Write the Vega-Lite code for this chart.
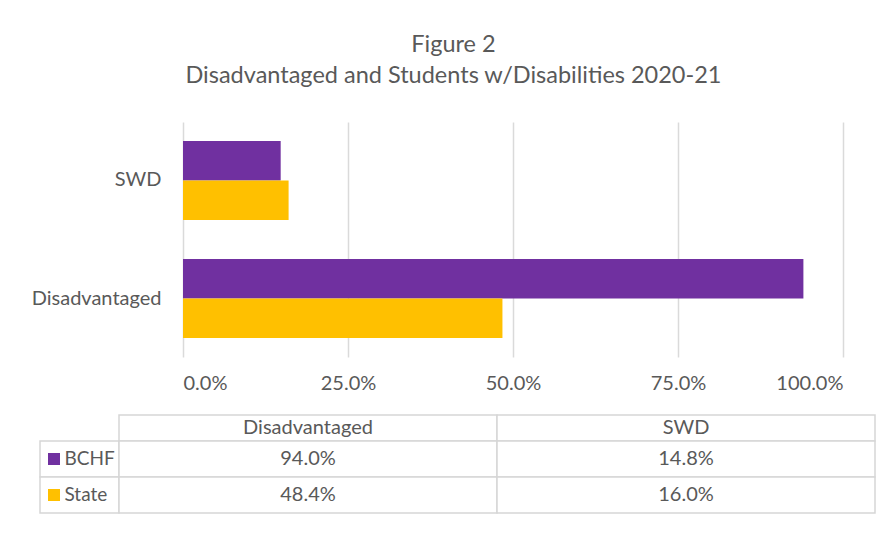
{
  "$schema": "https://vega.github.io/schema/vega-lite/v6.json",
  "background": "white",
  "padding": {"left": 31, "top": 32, "right": 10, "bottom": 10},
  "datasets": {
    "scores": [
      {"category": "Disadvantaged", "series": "BCHF", "value": 0.940},
      {"category": "Disadvantaged", "series": "State", "value": 0.484},
      {"category": "SWD", "series": "BCHF", "value": 0.148},
      {"category": "SWD", "series": "State", "value": 0.160}
    ],
    "columns": [{"category": "Disadvantaged"}, {"category": "SWD"}],
    "legendRows": [{"series": "BCHF"}, {"series": "State"}]
  },
  "title": {
    "text": ["Figure 2", "Disadvantaged and Students w/Disabilities 2020-21"],
    "font": "Lato",
    "fontSize": 23.5,
    "fontWeight": "normal",
    "color": "#595959",
    "lineHeight": 31,
    "anchor": "middle",
    "offset": 35
  },
  "spacing": 21,
  "vconcat": [
    {
      "width": 660,
      "height": 235,
      "data": {"name": "scores"},
      "mark": {"type": "bar"},
      "encoding": {
        "y": {
          "field": "category", "type": "nominal",
          "sort": ["SWD", "Disadvantaged"],
          "scale": {"paddingInner": 0.33, "paddingOuter": 0.16},
          "axis": {"title": null, "ticks": false, "domain": false, "labelFont": "Lato", "labelFontSize": 20, "labelColor": "#595959", "labelPadding": 22}
        },
        "yOffset": {"field": "series", "type": "nominal", "sort": ["BCHF", "State"], "scale": {"paddingInner": 0, "paddingOuter": 0}},
        "x": {
          "field": "value", "type": "quantitative",
          "scale": {"domain": [0, 1]},
          "axis": {"title": null, "format": ".1%", "values": [0, 0.25, 0.5, 0.75, 1], "domain": false, "ticks": false, "grid": true, "gridColor": "#DADADA", "gridWidth": 1.5, "labelFont": "Lato", "labelFontSize": 20, "labelColor": "#595959", "labelPadding": 16}
        },
        "color": {"field": "series", "type": "nominal", "scale": {"domain": ["BCHF", "State"], "range": ["#7030A0", "#FFC000"]}, "legend": null}
      }
    },
    {
      "width": 692,
      "height": 98,
      "layer": [
        {
          "data": {"name": "legendRows"},
          "encoding": {
            "y": {"field": "series", "type": "nominal", "sort": ["BCHF", "State"], "scale": {"range": [26, 98], "paddingInner": 0, "paddingOuter": 0}, "axis": null}
          },
          "layer": [
            {
              "mark": {"type": "rect", "fill": "white", "stroke": "#D6D6D6", "strokeWidth": 1.5},
              "encoding": {"x": {"datum": "key", "type": "nominal", "scale": {"range": [-143, -64], "paddingInner": 0, "paddingOuter": 0}, "axis": null}}
            },
            {
              "mark": {"type": "point", "shape": "square", "filled": true, "opacity": 1, "size": 144},
              "encoding": {
                "x": {"datum": "key", "type": "nominal", "bandPosition": 0.177, "axis": null},
                "color": {"field": "series", "type": "nominal", "legend": null}
              }
            },
            {
              "mark": {"type": "text", "align": "left", "baseline": "middle", "font": "Lato", "fontSize": 19, "color": "#595959"},
              "encoding": {
                "x": {"datum": "key", "type": "nominal", "bandPosition": 0.31, "axis": null},
                "text": {"field": "series"}
              }
            }
          ]
        },
        {
          "data": {"name": "columns"},
          "encoding": {
            "x": {"field": "category", "type": "nominal", "sort": ["Disadvantaged", "SWD"], "scale": {"range": [-64, 692], "paddingInner": 0, "paddingOuter": 0}, "axis": null},
            "y": {"datum": "header", "type": "nominal", "scale": {"range": [0, 26], "paddingInner": 0, "paddingOuter": 0}, "axis": null}
          },
          "layer": [
            {"mark": {"type": "rect", "fill": "white", "stroke": "#D6D6D6", "strokeWidth": 1.5}},
            {
              "mark": {"type": "text", "baseline": "middle", "font": "Lato", "fontSize": 20, "color": "#595959"},
              "encoding": {"text": {"field": "category"}}
            }
          ]
        },
        {
          "data": {"name": "scores"},
          "encoding": {
            "x": {"field": "category", "type": "nominal", "sort": ["Disadvantaged", "SWD"], "scale": {"range": [-64, 692], "paddingInner": 0, "paddingOuter": 0}, "axis": null},
            "y": {"field": "series", "type": "nominal", "sort": ["BCHF", "State"], "scale": {"range": [26, 98], "paddingInner": 0, "paddingOuter": 0}, "axis": null}
          },
          "layer": [
            {"mark": {"type": "rect", "fill": "white", "stroke": "#D6D6D6", "strokeWidth": 1.5}},
            {
              "mark": {"type": "text", "baseline": "middle", "font": "Lato", "fontSize": 20, "color": "#595959"},
              "encoding": {"text": {"field": "value", "type": "quantitative", "format": ".1%"}}
            }
          ]
        }
      ],
      "resolve": {"scale": {"x": "independent", "y": "independent"}}
    }
  ],
  "config": {"view": {"stroke": null}}
}
